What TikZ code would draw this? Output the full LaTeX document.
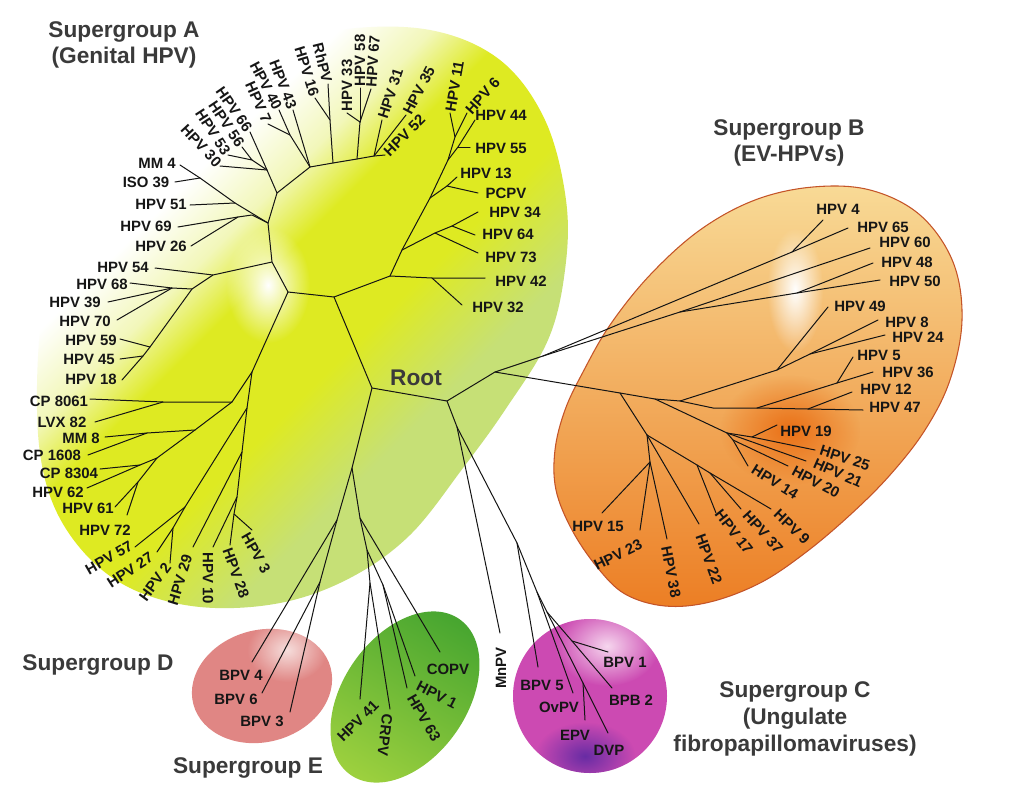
\documentclass[tikz,border=0pt]{standalone}
\usepackage{fontspec}
\setmainfont{Liberation Sans}
\usetikzlibrary{fadings}
\definecolor{ayel}{RGB}{222,234,34}
\definecolor{ayelp}{RGB}{242,247,185}
\definecolor{agrn}{RGB}{198,224,118}
\definecolor{btop}{RGB}{248,218,150}
\definecolor{bmid}{RGB}{243,172,92}
\definecolor{bbot}{RGB}{236,126,36}
\definecolor{bline}{RGB}{196,84,40}
\definecolor{bdeep}{RGB}{234,112,22}
\definecolor{dpink}{RGB}{224,134,132}
\definecolor{dlite}{RGB}{246,222,220}
\definecolor{egrnA}{RGB}{72,166,48}
\definecolor{egrnB}{RGB}{156,208,62}
\definecolor{cmag}{RGB}{204,74,178}
\definecolor{clite}{RGB}{246,214,238}
\definecolor{cpur}{RGB}{104,44,164}
\definecolor{labc}{RGB}{22,22,22}
\definecolor{ttlc}{RGB}{58,58,58}
\pgfdeclarehorizontalshading{shA}{100bp}{color(0bp)=(white); color(34bp)=(white); color(40bp)=(ayelp); color(45bp)=(ayel); color(55bp)=(ayel); color(64bp)=(agrn); color(100bp)=(agrn)}
\tikzfading[name=fuzzy, inner color=transparent!0, outer color=transparent!100]
\tikzset{
  br/.style={draw=black!92, line width=0.75pt, line cap=round, line join=round},
  lab/.style={font=\fontsize{11.2}{12}\selectfont\bfseries, text=labc, inner sep=1.2pt},
  ttl/.style={font=\fontsize{17}{20}\selectfont\bfseries, text=ttlc, align=center},
}
\begin{document}
\begin{tikzpicture}[x=0.75pt, y=-0.75pt]
\useasboundingbox (0,0) rectangle (1024,785);
\fill[white] (0,0) rectangle (1024,785);

% ---------- backgrounds ----------
\shade[shading=shA, shading angle=-45] plot[smooth cycle, tension=0.6] coordinates {(37,410) (48,490) (80,548) (130,588) (200,607) (280,603) (350,578) (410,535) (463,468) (505,410) (548,340) (565,270) (566,200) (545,120) (500,60) (430,30) (340,30) (260,55) (190,100) (130,160) (80,230) (45,300)};
\fill[white, path fading=fuzzy] (268,285) ellipse (42 and 58);

\shadedraw[top color=btop, middle color=bmid, bottom color=bbot, draw=bline, line width=0.8pt] plot[smooth cycle, tension=0.6] coordinates {(813,187) (870,190) (920,215) (953,262) (962,320) (950,380) (925,430) (890,475) (850,515) (805,553) (760,583) (710,602) (665,606) (625,594) (597,567) (572,530) (556,490) (555,450) (565,410) (583,372) (610,325) (650,275) (700,230) (755,200)};
\fill[white, path fading=fuzzy] (795,290) ellipse (28 and 62);
\fill[bdeep, path fading=fuzzy] (790,430) ellipse (70 and 55);

\begin{scope}
\clip[rotate around={15:(262,686)}] (262,686) ellipse (71 and 56);
\fill[dpink] (180,620) rectangle (345,750);
\fill[dlite, path fading=fuzzy] (287,650) ellipse (40 and 32);
\end{scope}

\shade[top color=egrnA, bottom color=egrnB, shading angle=-30, rotate around={55:(405,697)}] (405,697) ellipse (95 and 62);

\begin{scope}
\clip (590,696) circle (77);
\fill[cmag] (510,615) rectangle (670,775);
\fill[clite, path fading=fuzzy] (607,646) ellipse (52 and 40);
\fill[cpur, path fading=fuzzy] (585,756) ellipse (50 and 34);
\end{scope}

% ---------- internal coordinates ----------
\coordinate (R1) at (372,388); \coordinate (R2) at (447,401);
\coordinate (A0) at (334,297); \coordinate (A1) at (288,292); \coordinate (A2) at (390,276);
\coordinate (P3) at (272,262); \coordinate (P1) at (268,223); \coordinate (P2) at (277,193);
\coordinate (a1) at (235,203); \coordinate (a2) at (200,178); \coordinate (a3) at (252,215); \coordinate (a4) at (238,217);
\coordinate (b1) at (267,170); \coordinate (b2) at (252,160);
\coordinate (c0) at (310,167); \coordinate (cA) at (290,135);
\coordinate (d0) at (333,163); \coordinate (d1) at (330,120);
\coordinate (e0) at (357,159); \coordinate (e1) at (360,122); \coordinate (ee) at (374,156);
\coordinate (f0) at (432,278); \coordinate (f1) at (402,250); \coordinate (f2) at (435,233); \coordinate (f3) at (452,226);
\coordinate (g1) at (430,198); \coordinate (g2) at (447,186);
\coordinate (h1) at (448,160); \coordinate (h2) at (458,147); \coordinate (h4) at (455,137);
\coordinate (k0) at (213,275); \coordinate (k1) at (192,289); \coordinate (k2) at (172,288); \coordinate (k3) at (150,347); \coordinate (k4) at (143,356);
\coordinate (L0) at (252,372);
\coordinate (m1) at (232,402); \coordinate (m2) at (163,402); \coordinate (m3) at (195,430); \coordinate (m4) at (147,433);
\coordinate (m5) at (157,458); \coordinate (m6) at (140,465); \coordinate (m7) at (138,482);
\coordinate (n0) at (247,408); \coordinate (n1) at (185,507); \coordinate (n2) at (173,528);
\coordinate (n3) at (242,452); \coordinate (n4) at (237,497); \coordinate (n5) at (234,514);
% B
\coordinate (q0) at (495,372); \coordinate (q1) at (543,356); \coordinate (q2) at (792,252); \coordinate (q3) at (680,312); \coordinate (q4) at (797,293);
\coordinate (r0) at (620,393); \coordinate (r1) at (655,399); \coordinate (r2) at (680,401); \coordinate (r5) at (713,408);
\coordinate (r6) at (757,408); \coordinate (r8) at (808,409); \coordinate (r3) at (777,370); \coordinate (r4) at (810,354); \coordinate (r7) at (837,383);
\coordinate (s1) at (727,433); \coordinate (s2) at (733,440); \coordinate (s3) at (752,437);
\coordinate (t1) at (647,435); \coordinate (t2) at (697,465); \coordinate (t4) at (710,473); \coordinate (t3) at (650,462);
% D E C
\coordinate (u1) at (352,468); \coordinate (u2) at (337,520); \coordinate (u3) at (320,582);
\coordinate (u4) at (360,518); \coordinate (u5) at (367,550); \coordinate (u6) at (370,583); \coordinate (u7) at (383,585);
\coordinate (v1) at (457,427); \coordinate (v2) at (517,543); \coordinate (v3) at (537,592); \coordinate (v4) at (547,612);
\coordinate (v5) at (583,683); \coordinate (v6) at (572,641);

% ---------- leaf coordinates ----------
\coordinate (Lmm4) at (180,165); \coordinate (Liso) at (175,182); \coordinate (L51) at (190,205); \coordinate (L69) at (178,227);
\coordinate (L26) at (191,246); \coordinate (L54) at (155,268); \coordinate (L68) at (130,283); \coordinate (L39) at (108,302);
\coordinate (L70) at (117,320); \coordinate (L59) at (120,339); \coordinate (L45) at (120,359); \coordinate (L18) at (122,380);
\coordinate (Lc81) at (90,399); \coordinate (Llvx) at (95,422); \coordinate (Lmm8) at (105,437); \coordinate (Lc16) at (88,455);
\coordinate (Lc83) at (100,469); \coordinate (L62) at (87,488); \coordinate (L61) at (115,507); \coordinate (L72) at (127,515);
\coordinate (L57) at (135,547); \coordinate (L27) at (157,552); \coordinate (L2) at (170,563); \coordinate (L29) at (193,547);
\coordinate (L10) at (213,547); \coordinate (L28) at (230,545); \coordinate (L3) at (252,530);
\coordinate (L30) at (220,166); \coordinate (L53) at (228,155); \coordinate (L56) at (242,147); \coordinate (L66) at (250,132);
\coordinate (L7) at (268,124); \coordinate (L40) at (279,110); \coordinate (L43) at (293,110); \coordinate (L16) at (315,98);
\coordinate (Lrh) at (328,84); \coordinate (L33) at (347,113); \coordinate (L58) at (360,88); \coordinate (L67) at (371,89);
\coordinate (L31) at (382,120); \coordinate (L35) at (406,115); \coordinate (L52) at (385,155); \coordinate (L11) at (450,113);
\coordinate (L6) at (467,113); \coordinate (L44) at (475,120); \coordinate (L55) at (470,147); \coordinate (L13) at (457,177);
\coordinate (Lpc) at (478,193); \coordinate (L34) at (478,212); \coordinate (L64) at (475,235); \coordinate (L73) at (478,253);
\coordinate (L42) at (485,278); \coordinate (L32) at (462,305);
\coordinate (B4) at (823,220); \coordinate (B65) at (848,228); \coordinate (B60) at (870,248); \coordinate (B48) at (873,263);
\coordinate (B50) at (880,280); \coordinate (B49) at (828,307); \coordinate (B8) at (878,320); \coordinate (B24) at (885,335);
\coordinate (B5) at (853,357); \coordinate (B36) at (873,372); \coordinate (B12) at (852,392); \coordinate (B47) at (863,410);
\coordinate (B19) at (777,425); \coordinate (B25) at (815,450); \coordinate (B21) at (806,461); \coordinate (B20) at (788,466);
\coordinate (B14) at (748,466); \coordinate (B9) at (771,509); \coordinate (B37) at (741,509); \coordinate (B17) at (716,513);
\coordinate (B22) at (699,524); \coordinate (B38) at (667,539); \coordinate (B23) at (640,530); \coordinate (B15) at (602,513);
\coordinate (D4) at (252,662); \coordinate (D6) at (262,693); \coordinate (D3) at (290,712);
\coordinate (Eco) at (440,652); \coordinate (E41) at (360,699); \coordinate (Ecr) at (390,709); \coordinate (E63) at (407,688); \coordinate (E1) at (415,676);
\coordinate (Cmn) at (500,633); \coordinate (C5) at (538,667); \coordinate (Cov) at (573,693); \coordinate (Cb2) at (612,688);
\coordinate (Cb1) at (608,652); \coordinate (Cdv) at (608,733); \coordinate (Cep) at (585,720);

% ---------- branches ----------
\draw[br] (A0) -- (R1) -- (R2);
\draw[br] (A1) -- (A0) -- (A2);
\draw[br] (A1) -- (P3) -- (P1) -- (P2) -- (c0);
\draw[br] (A1) -- (L0);
\draw[br] (P1) -- (a1) -- (a2) -- (Lmm4); \draw[br] (a2) -- (Liso); \draw[br] (a1) -- (L51);
\draw[br] (P1) -- (a3) -- (a4) -- (L69); \draw[br] (a4) -- (L26);
\draw[br] (P2) -- (b1) -- (L66); \draw[br] (b1) -- (b2) -- (L56); \draw[br] (b2) -- (L53); \draw[br] (b1) -- (L30);
\draw[br] (c0) -- (cA) -- (L7); \draw[br] (cA) -- (L40); \draw[br] (c0) -- (L43);
\draw[br] (c0) -- (d0) -- (e0) -- (ee) -- (L52);
\draw[br] (d0) -- (d1) -- (Lrh); \draw[br] (d1) -- (L16);
\draw[br] (e0) -- (e1) -- (L33); \draw[br] (e1) -- (L58); \draw[br] (e1) -- (L67);
\draw[br] (ee) -- (L31); \draw[br] (ee) -- (L35);
\draw[br] (A2) -- (f0) -- (L42); \draw[br] (f0) -- (L32);
\draw[br] (A2) -- (f1) -- (f2) -- (f3) -- (L34); \draw[br] (f3) -- (L64); \draw[br] (f2) -- (L73);
\draw[br] (f1) -- (g1) -- (g2) -- (L13); \draw[br] (g2) -- (Lpc);
\draw[br] (g1) -- (h1) -- (h4) -- (L11); \draw[br] (h4) -- (L6); \draw[br] (h1) -- (h2) -- (L44); \draw[br] (h2) -- (L55);
\draw[br] (P3) -- (k0) -- (L54); \draw[br] (k0) -- (k1) -- (k2) -- (L68); \draw[br] (k2) -- (L39); \draw[br] (k2) -- (L70);
\draw[br] (k1) -- (k3) -- (L59); \draw[br] (k3) -- (k4) -- (L45); \draw[br] (k4) -- (L18);
\draw[br] (L0) -- (m1) -- (m2) -- (Lc81); \draw[br] (m2) -- (Llvx);
\draw[br] (m1) -- (m3) -- (m4) -- (Lmm8); \draw[br] (m4) -- (Lc16);
\draw[br] (m3) -- (m5) -- (m6) -- (Lc83); \draw[br] (m6) -- (L62);
\draw[br] (m5) -- (m7) -- (L61); \draw[br] (m7) -- (L72);
\draw[br] (L0) -- (n0) -- (n1) -- (L57); \draw[br] (n1) -- (n2) -- (L27); \draw[br] (n2) -- (L2);
\draw[br] (n0) -- (n3) -- (L29); \draw[br] (n3) -- (n4) -- (L10); \draw[br] (n4) -- (n5) -- (L28); \draw[br] (n5) -- (L3);
% B
\draw[br] (R2) -- (q0) -- (q1) -- (q2) -- (B4); \draw[br] (q2) -- (B65);
\draw[br] (q1) -- (q3) -- (B60); \draw[br] (q3) -- (q4) -- (B48); \draw[br] (q4) -- (B50);
\draw[br] (q0) -- (r0) -- (r1) -- (r2) -- (r5) -- (r6) -- (r8) -- (B47);
\draw[br] (r2) -- (r3) -- (B49); \draw[br] (r3) -- (r4) -- (B8); \draw[br] (r4) -- (B24);
\draw[br] (r6) -- (r7) -- (B36); \draw[br] (r7) -- (B5); \draw[br] (r8) -- (B12);
\draw[br] (r1) -- (s1) -- (s3) -- (B25); \draw[br] (s3) -- (B19); \draw[br] (s1) -- (B21);
\draw[br] (s1) -- (s2) -- (B20); \draw[br] (s2) -- (B14);
\draw[br] (r0) -- (t1) -- (t2) -- (t4) -- (B9); \draw[br] (t4) -- (B37); \draw[br] (t2) -- (B17);
\draw[br] (t1) -- (B22); \draw[br] (t1) -- (t3) -- (B38); \draw[br] (t3) -- (B23); \draw[br] (t3) -- (B15);
% D E C
\draw[br] (R1) -- (u1) -- (u2) -- (D4); \draw[br] (u2) -- (u3) -- (D6); \draw[br] (u3) -- (D3);
\draw[br] (u1) -- (u4) -- (Eco); \draw[br] (u4) -- (u5) -- (u6) -- (E41); \draw[br] (u6) -- (Ecr);
\draw[br] (u5) -- (u7) -- (E63); \draw[br] (u7) -- (E1);
\draw[br] (R2) -- (v1) -- (Cmn); \draw[br] (v1) -- (v2) -- (C5); \draw[br] (v2) -- (v3) -- (Cov);
\draw[br] (v3) -- (v4) -- (v6) -- (Cb2); \draw[br] (v6) -- (Cb1); \draw[br] (v4) -- (v5) -- (Cdv); \draw[br] (v5) -- (Cep);

% ---------- labels: supergroup A ----------
\node[lab] (tMM4) at (157,163) {MM 4};
\node[lab] (tISO) at (146,182) {ISO 39};
\node[lab] (t51) at (161,204) {HPV 51};
\node[lab] (t69) at (146,226) {HPV 69};
\node[lab] (t26) at (161,246) {HPV 26};
\node[lab] (t54) at (123,267) {HPV 54};
\node[lab] (t68) at (102,284) {HPV 68};
\node[lab] (t39) at (75,302) {HPV 39};
\node[lab] (t70) at (85,321) {HPV 70};
\node[lab] (t59) at (91,340) {HPV 59};
\node[lab] (t45) at (89,359) {HPV 45};
\node[lab] (t18) at (91,379) {HPV 18};
\node[lab] (tc81) at (59,401) {CP 8061};
\node[lab] (tlvx) at (62,422) {LVX 82};
\node[lab] (tmm8) at (81,438) {MM 8};
\node[lab] (tc16) at (52,455) {CP 1608};
\node[lab] (tc83) at (69,473) {CP 8304};
\node[lab] (t62) at (58,492) {HPV 62};
\node[lab] (t61) at (88,508) {HPV 61};
\node[lab] (t72) at (105,530) {HPV 72};
\node[lab, rotate=30] (t57) at (109,558) {HPV 57};
\node[lab, rotate=33] (t27) at (130,570) {HPV 27};
\node[lab, rotate=54] (t2) at (155,582) {HPV 2};
\node[lab, rotate=73] (t29) at (180,580) {HPV 29};
\node[lab, rotate=-90] (t10) at (208,578) {HPV 10};
\node[lab, rotate=-70] (t28) at (236,573) {HPV 28};
\node[lab, rotate=-60] (t3) at (256,553) {HPV 3};
\node[lab, rotate=-47, anchor=east] (t30) at (L30) {HPV 30};
\node[lab, rotate=-57, anchor=east] (t53) at (L53) {HPV 53};
\node[lab, rotate=-56, anchor=east] (t56) at (L56) {HPV 56};
\node[lab, rotate=-55, anchor=east] (t66) at (L66) {HPV 66};
\node[lab, rotate=-66, anchor=east] (t7) at (L7) {HPV 7};
\node[lab, rotate=-62, anchor=east] (t40) at (L40) {HPV 40};
\node[lab, rotate=-69, anchor=east] (t43) at (L43) {HPV 43};
\node[lab, rotate=-73, anchor=east] (t16) at (L16) {HPV 16};
\node[lab, rotate=-76, anchor=east] (trh) at (Lrh) {RhPV};
\node[lab, rotate=90, anchor=west] (t33) at (L33) {HPV 33};
\node[lab, rotate=90, anchor=west] (t58) at (L58) {HPV 58};
\node[lab, rotate=86, anchor=west] (t67) at (L67) {HPV 67};
\node[lab, rotate=72, anchor=west] (t31) at (L31) {HPV 31};
\node[lab, rotate=62, anchor=west] (t35) at (L35) {HPV 35};
\node[lab, rotate=45, anchor=west] (t52) at (L52) {HPV 52};
\node[lab, rotate=80, anchor=west] (t11) at (L11) {HPV 11};
\node[lab, rotate=48, anchor=west] (t6) at (L6) {HPV 6};
\node[lab] (t44) at (501,115) {HPV 44};
\node[lab] (t55) at (501,148) {HPV 55};
\node[lab] (t13) at (486,173) {HPV 13};
\node[lab] (tpc) at (506,193) {PCPV};
\node[lab] (t34) at (515,212) {HPV 34};
\node[lab] (t64) at (508,234) {HPV 64};
\node[lab] (t73) at (511,257) {HPV 73};
\node[lab] (t42) at (521,281) {HPV 42};
\node[lab] (t32) at (498,307) {HPV 32};

% ---------- labels: supergroup B ----------
\node[lab] (b4) at (838,209) {HPV 4};
\node[lab] (b65) at (883,227) {HPV 65};
\node[lab] (b60) at (905,242) {HPV 60};
\node[lab] (b48) at (907,262) {HPV 48};
\node[lab] (b50) at (915,281) {HPV 50};
\node[lab] (b49) at (860,306) {HPV 49};
\node[lab] (b8) at (907,322) {HPV 8};
\node[lab] (b24) at (918,337) {HPV 24};
\node[lab] (b5) at (879,355) {HPV 5};
\node[lab] (b36) at (908,372) {HPV 36};
\node[lab] (b12) at (886,389) {HPV 12};
\node[lab] (b47) at (895,407) {HPV 47};
\node[lab] (b19) at (806,431) {HPV 19};
\node[lab, rotate=-18] (b25) at (845,458) {HPV 25};
\node[lab, rotate=-24] (b21) at (838,473) {HPV 21};
\node[lab, rotate=-28] (b20) at (816,482) {HPV 20};
\node[lab, rotate=-32] (b14) at (775,482) {HPV 14};
\node[lab, rotate=-44] (b9) at (792,527) {HPV 9};
\node[lab, rotate=-48] (b37) at (763,532) {HPV 37};
\node[lab, rotate=-52] (b17) at (734,532) {HPV 17};
\node[lab, rotate=-70] (b22) at (709,559) {HPV 22};
\node[lab, rotate=-79] (b38) at (671,572) {HPV 38};
\node[lab, rotate=26] (b23) at (618,555) {HPV 23};
\node[lab] (b15) at (598,526) {HPV 15};

% ---------- labels: D, E, C ----------
\node[lab] (d4) at (241,675) {BPV 4};
\node[lab] (d6) at (236,699) {BPV 6};
\node[lab] (d3) at (262,721) {BPV 3};
\node[lab] (eco) at (448,669) {COPV};
\node[lab, rotate=-27] (e1) at (437,695) {HPV 1};
\node[lab, rotate=-60] (e63) at (424,718) {HPV 63};
\node[lab, rotate=-97] (ecr) at (385,735) {CRPV};
\node[lab, rotate=45] (e41) at (358,721) {HPV 41};
\node[lab, rotate=90] (cmn) at (501,668) {MnPV};
\node[lab] (cb1) at (625,662) {BPV 1};
\node[lab] (cb5) at (542,685) {BPV 5};
\node[lab] (cov) at (559,707) {OvPV};
\node[lab] (cb2) at (631,700) {BPB 2};
\node[lab] (cep) at (575,735) {EPV};
\node[lab] (cdv) at (609,750) {DVP};

% ---------- titles ----------
\node[ttl] (root) at (416,378) {Root};
\node[ttl] (tA) at (124,45) {Supergroup A\\(Genital HPV)};
\node[ttl] (tB) at (789,143) {Supergroup B\\(EV-HPVs)};
\node[ttl, font=\fontsize{17}{20.3}\selectfont\bfseries] (tC) at (795,719) {Supergroup C\\(Ungulate\\fibropapillomaviruses)};
\node[ttl] (tD) at (98,665) {Supergroup D};
\node[ttl] (tE) at (248,768) {Supergroup E};
\end{tikzpicture}
\end{document}
